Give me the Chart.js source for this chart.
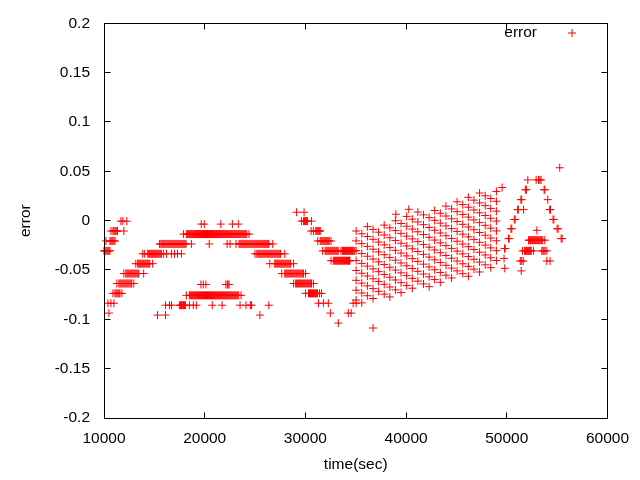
<!DOCTYPE html>
<html><head><meta charset="utf-8">
<script src="https://cdn.jsdelivr.net/npm/chart.js@4/dist/chart.umd.min.js"></script>
<style>html,body{margin:0;padding:0;background:#fff}#wrap{width:640px;height:480px}</style>
</head><body><div id="wrap"><canvas id="c" width="640" height="480"></canvas></div>
<script>
const xTicks = [10000, 20000, 30000, 40000, 50000, 60000];
const yTicks = [-0.2, -0.15, -0.1, -0.05, 0, 0.05, 0.1, 0.15, 0.2];
const seriesName = 'error';

// horizontal runs of samples (error level -> sample times)
const bandLevels = [0.0085, -0.0005, -0.0035, -0.0105, -0.0136, -0.0206, -0.0236, -0.0306, -0.0336, -0.0406,
  -0.0436, -0.0536, -0.0637, -0.0647, -0.0737, -0.0757, -0.0837, -0.0857, -0.0937, -0.0957, -0.1038];
const bandTimes = [
  [29130, 29870],
  [11680, 11870, 12270, 29620, 29820, 29920, 30020, 30120, 30220, 30610],
  [19660, 19960, 21600, 22750, 23340],
  [10690, 10890, 10990, 11090, 11190, 11290, 11330, 11970, 30570, 30800, 31030, 31130, 31230, 31330, 31430, 31470],
  [17890, 18180, 18280, 18380, 18480, 18580, 18680, 18780, 18880, 18980, 19080,
   19180, 19280, 19380, 19480, 19580, 19680, 19780, 19880, 19980, 20080,
   20180, 20280, 20380, 20480, 20580, 20680, 20780, 20880, 20980, 21080,
   21180, 21280, 21380, 21480, 21580, 21680, 21780, 21880, 21980, 22080,
   22180, 22280, 22380, 22480, 22580, 22680, 22780, 22880, 22980, 23080,
   23180, 23280, 23380, 23480, 23580, 23680, 23780, 23880, 23980, 24080, 24180, 24400],
  [10200, 10590, 10690, 10790, 10890, 10990, 11090, 31230, 31470, 31570, 31670, 31770, 31870, 31970, 32070, 32170,
   32270, 32370, 32550],
  [15520, 15650, 15750, 15850, 15950, 16050, 16150, 16250, 16350, 16450, 16550, 16650, 16750, 16850, 16950, 17050,
   17150, 17250, 17350, 17450, 17550, 17650, 17750, 17850, 17950, 18050, 18150, 18680, 20450, 22230, 22520, 23110,
   23410, 23510, 23610, 23710, 23810, 23910, 24010, 24110, 24210, 24310, 24410, 24510, 24610, 24710, 24810, 24910,
   25010, 25110, 25210, 25310, 25410, 25510, 25610, 25710, 25810, 25910, 26010, 26110, 26210, 26310, 26370, 26760],
  [10000, 10100, 10200, 10300, 10400, 10500, 10590, 31720, 31960, 32060, 32160, 32260, 32360, 32460, 32560, 32660,
   32760, 32860, 32960, 33060, 33160, 33260, 33530, 33690, 33790, 33890, 33990, 34090, 34190, 34290, 34390, 34490,
   34590, 34690, 34750, 34900],
  [13850, 14040, 14340, 14440, 14540, 14640, 14740, 14840, 14940, 15040, 15140, 15240, 15340, 15440, 15540, 15640,
   15720, 15920, 16210, 16700, 17000, 17300, 17690, 24990, 25180, 25280, 25380, 25480, 25580, 25680, 25780, 25880,
   25980, 26080, 26180, 26280, 26380, 26480, 26580, 26680, 26780, 26880, 26980, 27080, 27180, 27280, 27380, 27480,
   27550, 27950],
  [32550, 32780, 32880, 32980, 33080, 33180, 33280, 33380, 33480, 33580, 33680, 33780, 33880, 33980, 34080, 34180,
   34280, 34380, 34420],
  [13160, 13350, 13450, 13550, 13650, 13750, 13850, 13950, 14050, 14150, 14250, 14350, 14450, 14540, 14830, 26470,
   26960, 27060, 27160, 27260, 27360, 27460, 27560, 27660, 27760, 27860, 27960, 28060, 28160, 28260, 28360, 28460,
   28540, 28830],
  [11970, 12170, 12270, 12370, 12470, 12570, 12670, 12770, 12870, 12970, 13070, 13170, 13270, 13370, 13450, 13940,
   27650, 27950, 28050, 28150, 28250, 28350, 28450, 28550, 28650, 28750, 28850, 28950, 29050, 29150, 29250, 29350,
   29450, 29550, 29650, 29750, 29820, 30020],
  [11280, 11480, 11580, 11680, 11780, 11880, 11980, 12080, 12180, 12280, 12380, 12480, 12580, 12680, 12760, 12960,
   28830, 29030, 29130, 29230, 29330, 29430, 29530, 29630, 29730, 29830, 29930, 30030, 30130, 30230, 30330, 30430,
   30530, 30610, 30800],
  [19630, 19860, 20120, 22100, 22250, 22320, 22420],
  [10890, 11090, 11190, 11290, 11390, 11490, 11580, 11780, 30020, 30310, 30410, 30510, 30610, 30710, 30810, 30910,
   31010, 31110, 31210, 31400, 31600],
  [18180, 18480, 18580, 18680, 18780, 18880, 18980, 19080, 19180, 19280, 19380,
   19480, 19580, 19680, 19780, 19880, 19980, 20080, 20180, 20280, 20380,
   20480, 20580, 20680, 20780, 20880, 20980, 21080, 21180, 21280, 21380,
   21480, 21580, 21680, 21780, 21880, 21980, 22080, 22180, 22280, 22380,
   22480, 22580, 22680, 22780, 22880, 22980, 23080, 23180, 23280, 23380, 23610],
  [10390, 10690, 10990, 31300, 31790, 32280, 34750, 35040],
  [16110, 16510, 16700, 17490, 17590, 17690, 17790, 17890, 17990, 18090, 18480, 18870, 19170, 20750, 21730, 23510,
   24100, 24540, 24650, 26370],
  [10490, 32480, 34260, 34550],
  [15320, 16110, 25480],
  [33270]
];

// sloping lattice after 35000 s (sample time -> error values)
const stripeTimes = [35040, 35600, 36160, 36720, 37270, 37830, 38390, 38940, 39500, 40060, 40620, 41170, 41730,
  42290, 42840, 43400, 43960, 44520, 45070, 45630, 46190, 46740, 47300, 47860, 48410, 48970];
const stripeErrors = [
  [-0.0105, -0.0205, -0.0305, -0.0405, -0.0505, -0.0605, -0.0705, -0.0805],
  [-0.0133, -0.0233, -0.0333, -0.0433, -0.0533, -0.0633, -0.0733, -0.0833],
  [-0.0061, -0.0161, -0.0261, -0.0361, -0.0461, -0.0561, -0.0661, -0.0761],
  [-0.0089, -0.0189, -0.0289, -0.0389, -0.0489, -0.0589, -0.0689, -0.0789],
  [-0.0117, -0.0217, -0.0317, -0.0417, -0.0517, -0.0617, -0.0717],
  [-0.0045, -0.0145, -0.0245, -0.0345, -0.0445, -0.0545, -0.0645, -0.0745],
  [-0.0073, -0.0173, -0.0273, -0.0373, -0.0473, -0.0573, -0.0673, -0.0773],
  [-0.0001, -0.0101, -0.0201, -0.0301, -0.0401, -0.0501, -0.0601, -0.0701],
  [-0.0029, -0.0129, -0.0229, -0.0329, -0.0429, -0.0529, -0.0629, -0.0729],
  [0.0043, -0.0057, -0.0157, -0.0257, -0.0357, -0.0457, -0.0557, -0.0657],
  [0.0015, -0.0085, -0.0185, -0.0285, -0.0385, -0.0485, -0.0585, -0.0685],
  [0.0087, -0.0013, -0.0113, -0.0213, -0.0313, -0.0413, -0.0513, -0.0613],
  [0.0059, -0.0041, -0.0141, -0.0241, -0.0341, -0.0441, -0.0541, -0.0641],
  [0.0031, -0.0069, -0.0169, -0.0269, -0.0369, -0.0469, -0.0569, -0.0669],
  [0.0103, 0.0003, -0.0097, -0.0197, -0.0297, -0.0397, -0.0497, -0.0597],
  [0.0075, -0.0025, -0.0125, -0.0225, -0.0325, -0.0425, -0.0525, -0.0625],
  [0.0147, 0.0047, -0.0053, -0.0153, -0.0253, -0.0353, -0.0453, -0.0553],
  [0.0119, 0.0019, -0.0081, -0.0181, -0.0281, -0.0381, -0.0481, -0.0581],
  [0.0191, 0.0091, -0.0009, -0.0109, -0.0209, -0.0309, -0.0409, -0.0509],
  [0.0163, 0.0063, -0.0037, -0.0137, -0.0237, -0.0337, -0.0437, -0.0537],
  [0.0236, 0.0136, 0.0036, -0.0064, -0.0164, -0.0264, -0.0364, -0.0464, -0.0564],
  [0.0208, 0.0108, 0.0008, -0.0092, -0.0192, -0.0292, -0.0392, -0.0492],
  [0.0280, 0.0180, 0.0080, -0.0020, -0.0120, -0.0220, -0.0320, -0.0420, -0.0520],
  [0.0252, 0.0152, 0.0052, -0.0048, -0.0148, -0.0248, -0.0348, -0.0448],
  [0.0224, 0.0124, 0.0024, -0.0076, -0.0176, -0.0276, -0.0376, -0.0476],
  [0.0296, 0.0196, 0.0096, -0.0004, -0.0104, -0.0204, -0.0304, -0.0404]
];

// the final peak (error level -> sample times)
const peakLevels = [0.0413, 0.0313, 0.0213, 0.0112, 0.0012, -0.0082, -0.0098, -0.0182, -0.0198, -0.0283, -0.0306,
  -0.0383, -0.0409, -0.0483, -0.0509];
const peakTimes = [
  [52090, 52920, 53150, 53290, 53410],
  [51850, 51950, 53710, 53790],
  [51400, 51480, 54070],
  [51080, 51150, 51670, 54260, 54340],
  [50750, 50830, 54600, 54680],
  [50420, 50500, 55000, 55100],
  [52990],
  [50170, 50240, 55400, 55500],
  [52170, 52270, 52370, 52470, 52570, 52670, 52770, 52870, 52970, 53070, 53170, 53270, 53370, 53470, 53570, 53780],
  [49780, 49850],
  [51570, 51770, 51870, 51970, 52070, 52170, 52270, 52370, 52430, 52660, 53480, 53600, 53700, 53800, 53980],
  [49730],
  [51340, 51490, 51640, 53980, 54300],
  [49800],
  [51440]
];

// isolated samples
const loneTimes = [36720, 40270, 38990, 49540, 55260];
const loneErrors = [-0.1088, 0.0115, 0.0065, 0.0336, 0.0536];

const points = [];
bandLevels.forEach((lv, i) => bandTimes[i].forEach(t => points.push({x: t, y: lv})));
stripeTimes.forEach((t, i) => stripeErrors[i].forEach(e => points.push({x: t, y: e})));
peakLevels.forEach((lv, i) => peakTimes[i].forEach(t => points.push({x: t, y: lv})));
loneTimes.forEach((t, i) => points.push({x: t, y: loneErrors[i]}));

const FONT = 'Liberation Sans, Arial, sans-serif';
const FS = 15.5;
const RED = '#ff0000';

const framePlugin = {
  id: 'frame',
  afterDatasetsDraw(chart) {
    const {ctx, chartArea: a, scales: {x, y}} = chart;
    const L = Math.floor(a.left) + 0.5, R = Math.floor(a.right) + 0.5;
    const T = Math.floor(a.top) + 0.5, B = Math.floor(a.bottom) + 0.5;
    const tl = 6;
    ctx.save();
    ctx.strokeStyle = '#000';
    ctx.lineWidth = 1;
    ctx.beginPath();
    ctx.rect(L, T, R - L, B - T);
    xTicks.forEach(v => {
      const px = Math.floor(x.getPixelForValue(v)) + 0.5;
      ctx.moveTo(px, B); ctx.lineTo(px, B - tl);
      ctx.moveTo(px, T); ctx.lineTo(px, T + tl);
    });
    yTicks.forEach(v => {
      const py = Math.floor(y.getPixelForValue(v)) + 0.5;
      ctx.moveTo(L, py); ctx.lineTo(L + tl, py);
      ctx.moveTo(R, py); ctx.lineTo(R - tl, py);
    });
    ctx.stroke();
    // key
    ctx.font = FS + 'px ' + FONT;
    ctx.fillStyle = '#000';
    ctx.textAlign = 'right';
    ctx.textBaseline = 'middle';
    ctx.fillText(seriesName, 537, 33);
    ctx.strokeStyle = RED;
    ctx.beginPath();
    ctx.moveTo(568, 33); ctx.lineTo(576, 33);
    ctx.moveTo(572, 29); ctx.lineTo(572, 37);
    ctx.stroke();
    ctx.restore();
  }
};

new Chart(document.getElementById('c'), {
  type: 'scatter',
  data: {
    datasets: [{
      label: seriesName,
      data: points,
      pointStyle: 'cross',
      radius: 4,
      borderWidth: 1,
      borderColor: RED,
      backgroundColor: RED,
      clip: false
    }]
  },
  options: {
    responsive: false,
    animation: false,
    events: [],
    layout: {padding: {left: 0, right: 28, top: 19, bottom: 0}},
    plugins: {legend: {display: false}, tooltip: {enabled: false}},
    scales: {
      x: {
        type: 'linear',
        min: 10000, max: 60000,
        afterFit: s => { s.height = 62; },
        afterBuildTicks: s => { s.ticks = xTicks.map(v => ({value: v})); },
        grid: {display: false, drawTicks: false, tickLength: 0},
        border: {display: false},
        ticks: {padding: 11, color: '#000', font: {family: FONT, size: FS}, callback: v => String(v), maxRotation: 0},
        title: {display: true, text: 'time(sec)', color: '#000', font: {family: FONT, size: FS}, padding: {top: 0, bottom: 6}}
      },
      y: {
        type: 'linear',
        min: -0.2, max: 0.2,
        afterFit: s => { s.width = 104; },
        afterBuildTicks: s => { s.ticks = yTicks.map(v => ({value: v})); },
        grid: {display: false, drawTicks: false, tickLength: 0},
        border: {display: false},
        ticks: {padding: 14, color: '#000', font: {family: FONT, size: FS},
          callback: v => { const r = Math.round(v * 100) / 100; return r === 0 ? '0' : String(r); }},
        title: {display: true, text: 'error', color: '#000', font: {family: FONT, size: FS}, padding: {top: 16, bottom: 0}}
      }
    }
  },
  plugins: [framePlugin]
});
</script></body></html>
